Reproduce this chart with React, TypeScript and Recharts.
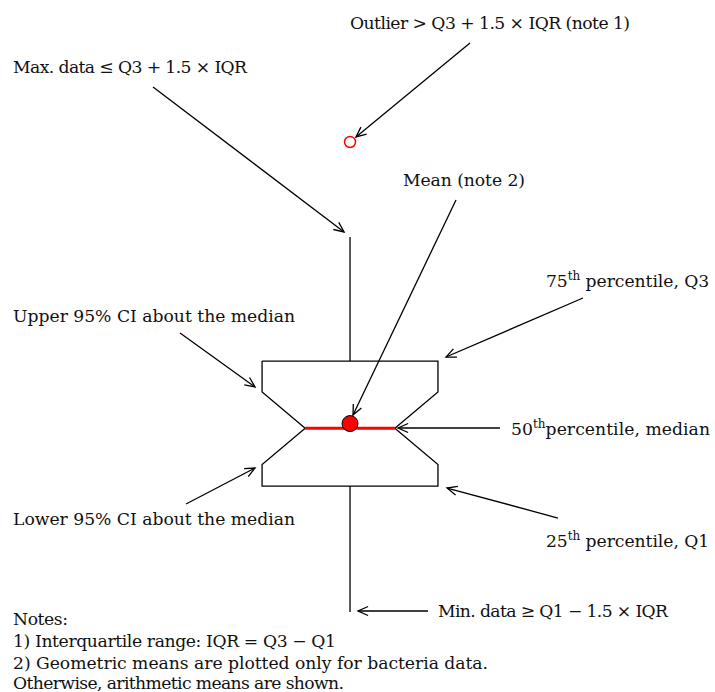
import React from "react";
import { ComposedChart, XAxis, YAxis, Line, ReferenceLine, ReferenceDot } from "recharts";

// ---- box statistics (value units) ----
const minValue = 0;
const q1Value = 26.8;
const ciLowValue = 31.4;
const medianValue = 39.1;
const meanValue = 40.1;
const ciHighValue = 46.8;
const q3Value = 53.4;
const maxValue = 79.8;
const outlierValues = [100];

// box geometry in category units (centre at 0)
const boxHalf = 1;
const notchHalf = 0.51;

// annotation texts
const labelTexts = [
  { pre: "Outlier > Q3 + 1.5 × IQR (note 1)", sup: "", post: "" },
  { pre: "Max. data ≤ Q3 + 1.5 × IQR", sup: "", post: "" },
  { pre: "Mean (note 2)", sup: "", post: "" },
  { pre: "75", sup: "th", post: " percentile, Q3" },
  { pre: "Upper 95% CI about the median", sup: "", post: "" },
  { pre: "50", sup: "th", post: "percentile, median" },
  { pre: "Lower 95% CI about the median", sup: "", post: "" },
  { pre: "25", sup: "th", post: " percentile, Q1" },
  { pre: "Min. data ≥ Q1 − 1.5 × IQR", sup: "", post: "" },
];
const noteTexts = [
  "Notes:",
  "1) Interquartile range: IQR = Q3 − Q1",
  "2) Geometric means are plotted only for bacteria data.",
  "Otherwise, arithmetic means are shown.",
];

// ---- layout (in axis units / pixels for text widths) ----
const labelAnchorX = [0, -3.832, 0.602, 2.228, -3.832, 1.83, -3.832, 2.228, 1.0];
const labelAnchorY = [124.1, 114.67, 90.63, 69.15, 61.71, 37.67, 18.52, 13.84, -1.05];
const labelWidths = [280, 234, 122, 0, 282, 0, 282, 0, 230];
const labelSpacing = [0, 0, 0, -0.05, 0, 0.05, 0, -0.05, 0];
const noteX = -3.832;
const noteY = [-2.75, -7.43, -12.11, -16.45];
const noteWidths = [55, 323, 475, 331];
const arrowTail = [
  [-2.24, 111.69],
  [1.364, 121.05],
  [1.205, 87.66],
  [2.649, 66.81],
  [-1.933, 59.37],
  [1.705, 39.16],
  [-1.865, 22.99],
  [2.365, 20.01],
  [0.887, 0.23],
];
const arrowHead = [
  [-0.068, 80.85],
  [0.068, 101.06],
  [0.034, 41.92],
  [1.091, 54.26],
  [-1.08, 47.88],
  [0.546, 39.16],
  [-1.08, 30.65],
  [1.103, 26.39],
  [0.091, 0.23],
];

const xDomain = [-3.98, 4.15];
const yDomain = [-17, 130.2];

const FONT = "DejaVu Serif";
const FS = 17.2;

const boxOutline = [
  { x: -boxHalf, y: q3Value },
  { x: boxHalf, y: q3Value },
  { x: boxHalf, y: ciHighValue },
  { x: notchHalf, y: medianValue },
  { x: boxHalf, y: ciLowValue },
  { x: boxHalf, y: q1Value },
  { x: -boxHalf, y: q1Value },
  { x: -boxHalf, y: ciLowValue },
  { x: -notchHalf, y: medianValue },
  { x: -boxHalf, y: ciHighValue },
  { x: -boxHalf, y: q3Value },
];

const arrowShape = (props: any) => {
  const { x1, y1, x2, y2 } = props;
  const a = Math.atan2(y2 - y1, x2 - x1);
  const L = 11;
  const w = 0.42;
  const ax = x2 - L * Math.cos(a - w);
  const ay = y2 - L * Math.sin(a - w);
  const bx = x2 - L * Math.cos(a + w);
  const by = y2 - L * Math.sin(a + w);
  return (
    <g>
      <line x1={x1} y1={y1} x2={x2} y2={y2} stroke="#000" strokeWidth={1.3} />
      <path d={`M${ax},${ay}L${x2},${y2}L${bx},${by}`} fill="none" stroke="#000" strokeWidth={1.3} />
    </g>
  );
};

const makeLabel = (lab: { pre: string; sup: string; post: string }, width: number, spacing: number) => (props: any) =>
  lab.sup ? (
    <text x={props.cx} y={props.cy} fontFamily={FONT} fontSize={FS} fill="#111" letterSpacing={spacing}>
      <tspan>{lab.pre}</tspan>
      <tspan fontSize={12} dy={-7}>
        {lab.sup}
      </tspan>
      <tspan dy={7}>{lab.post}</tspan>
    </text>
  ) : (
    <text
      x={props.cx}
      y={props.cy}
      fontFamily={FONT}
      fontSize={FS}
      fill="#111"
      textLength={width}
      lengthAdjust="spacing"
    >
      {lab.pre}
    </text>
  );

const makeNote = (t: string, width: number) => (props: any) => (
  <text
    x={props.cx}
    y={props.cy}
    fontFamily={FONT}
    fontSize={FS}
    fill="#111"
    textLength={width}
    lengthAdjust="spacing"
  >
    {t}
  </text>
);

export default function App() {
  return (
    <div style={{ position: "absolute", left: 0, top: 0, width: 715, height: 692, background: "#fff" }}>
      <ComposedChart width={715} height={692} margin={{ top: 0, right: 0, bottom: 0, left: 0 }}>
        <XAxis type="number" dataKey="x" domain={xDomain} hide allowDataOverflow />
        <YAxis type="number" domain={yDomain} hide allowDataOverflow />
        {/* whiskers */}
        <ReferenceLine
          segment={[{ x: 0, y: q3Value }, { x: 0, y: maxValue }]}
          stroke="#000"
          strokeWidth={1.3}
          ifOverflow="visible"
        />
        <ReferenceLine
          segment={[{ x: 0, y: q1Value }, { x: 0, y: minValue }]}
          stroke="#000"
          strokeWidth={1.3}
          ifOverflow="visible"
        />
        {/* notched box */}
        <Line
          data={boxOutline}
          dataKey="y"
          type="linear"
          stroke="#000"
          strokeWidth={1.3}
          dot={false}
          activeDot={false}
          isAnimationActive={false}
        />
        {/* median */}
        <ReferenceLine
          segment={[{ x: -notchHalf, y: medianValue }, { x: notchHalf, y: medianValue }]}
          stroke="#ff0000"
          strokeWidth={3}
          ifOverflow="visible"
        />
        {/* mean */}
        <ReferenceDot x={0} y={meanValue} r={8} fill="#ff0000" stroke="#000" strokeWidth={1} ifOverflow="visible" />
        {/* outliers */}
        {outlierValues.map((v, i) => (
          <ReferenceDot key={"o" + i} x={0} y={v} r={5.5} fill="#fff" stroke="#ff0000" strokeWidth={1.5} ifOverflow="visible" />
        ))}
        {/* arrows */}
        {arrowTail.map((t, i) => (
          <ReferenceLine
            key={"a" + i}
            segment={[{ x: t[0], y: t[1] }, { x: arrowHead[i][0], y: arrowHead[i][1] }]}
            ifOverflow="visible"
            shape={arrowShape}
          />
        ))}
        {/* labels */}
        {labelTexts.map((lab, i) => (
          <ReferenceDot
            key={"l" + i}
            x={labelAnchorX[i]}
            y={labelAnchorY[i]}
            r={0}
            ifOverflow="visible"
            shape={makeLabel(lab, labelWidths[i], labelSpacing[i])}
          />
        ))}
        {noteTexts.map((t, i) => (
          <ReferenceDot key={"n" + i} x={noteX} y={noteY[i]} r={0} ifOverflow="visible" shape={makeNote(t, noteWidths[i])} />
        ))}
      </ComposedChart>
    </div>
  );
}
